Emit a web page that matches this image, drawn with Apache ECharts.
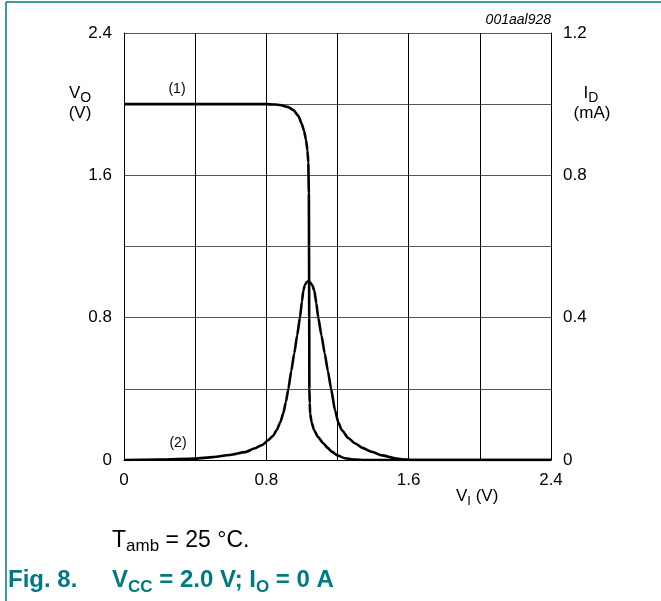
<!DOCTYPE html>
<html>
<head>
<meta charset="utf-8">
<script src="https://cdn.jsdelivr.net/npm/echarts@6/dist/echarts.min.js"></script>
<style>
html,body{margin:0;padding:0;background:#fff;}
#chart{width:661px;height:601px;}
</style>
</head>
<body>
<div id="chart"></div>
<script>
// ---- data ----
const voCurve = [ // [V_I (V), V_O (V)]  curve (1)
  [0, 2.0], [0.4, 2.0], [0.8, 2.0], [0.85, 1.998], [0.877, 1.995], [0.92, 1.985],
  [0.952, 1.967], [0.98, 1.935], [0.999, 1.89], [1.012, 1.85], [1.023, 1.80],
  [1.031, 1.74], [1.036, 1.67], [1.039, 1.5], [1.040, 1.2], [1.041, 0.8],
  [1.042, 0.4], [1.044, 0.32], [1.046, 0.262], [1.055, 0.21], [1.068, 0.169],
  [1.09, 0.13], [1.12, 0.094], [1.145, 0.068], [1.168, 0.047], [1.2, 0.025],
  [1.242, 0.010], [1.3, 0.002], [1.35, 0], [2.4, 0]
];
const idCurve = [ // [V_I (V), I_D (mA)]  curve (2)
  [0, 0], [0.2, 0.001], [0.4, 0.004], [0.5, 0.008], [0.596, 0.014], [0.68, 0.022],
  [0.736, 0.033], [0.78, 0.043], [0.811, 0.056], [0.838, 0.068], [0.858, 0.084],
  [0.878, 0.105], [0.895, 0.131], [0.91, 0.163], [0.924, 0.2], [0.94, 0.25],
  [0.957, 0.3], [0.973, 0.35], [0.989, 0.4], [1.0, 0.445], [1.008, 0.476],
  [1.017, 0.492], [1.027, 0.5], [1.036, 0.502], [1.046, 0.499], [1.058, 0.492],
  [1.07, 0.476], [1.081, 0.44], [1.092, 0.4], [1.11, 0.35], [1.128, 0.3],
  [1.146, 0.25], [1.164, 0.2], [1.186, 0.14], [1.205, 0.105], [1.224, 0.084],
  [1.26, 0.062], [1.298, 0.047], [1.34, 0.034], [1.392, 0.023], [1.45, 0.013],
  [1.523, 0.005], [1.58, 0.001], [1.62, 0], [2.4, 0]
];
const xTickLabels = ['0', '0.8', '1.6', '2.4'];
const yLeftTickLabels = ['0', '0.8', '1.6', '2.4'];
const yRightTickLabels = ['0', '0.4', '0.8', '1.2'];

// ---- chart ----
const FONT = 'Liberation Sans, Arial, sans-serif';
const TEAL = '#007a80';
function pickLabel(labels, step) {
  return function (v) {
    const k = v / step;
    if (Math.abs(k - Math.round(k)) < 1e-6) {
      const i = Math.round(k);
      return labels[i] !== undefined ? labels[i] : '';
    }
    return '';
  };
}
function richSet(size, subSize, color, bold) {
  const w = bold ? 'bold' : 'normal';
  return {
    m: {fontSize: size, fontWeight: w, fontFamily: FONT, fill: color, lineHeight: Math.round(size * 1.15), verticalAlign: 'top'},
    s: {fontSize: subSize, fontWeight: w, fontFamily: FONT, fill: color, lineHeight: Math.round(subSize * 0.75), verticalAlign: 'bottom'}
  };
}
const chart = echarts.init(document.getElementById('chart'), null, {renderer: 'canvas'});
const labelStyle = {color: '#000', fontFamily: FONT, fontSize: 17};
chart.setOption({
  animation: false,
  backgroundColor: '#fff',
  grid: {left: 124, right: 110, top: 33, bottom: 141, containLabel: false},
  xAxis: {
    type: 'value', min: 0, max: 2.4, interval: 0.4,
    axisLine: {show: true, onZero: false, lineStyle: {color: '#000', width: 1}},
    axisTick: {show: false},
    axisLabel: Object.assign({margin: 12, formatter: pickLabel(xTickLabels, 0.8)}, labelStyle),
    splitLine: {show: true, lineStyle: {color: '#000', width: 1}}
  },
  yAxis: [{
    type: 'value', min: 0, max: 2.4, interval: 0.4, position: 'left',
    axisLine: {show: true, onZero: false, lineStyle: {color: '#000', width: 1}},
    axisTick: {show: false},
    axisLabel: Object.assign({margin: 12, formatter: pickLabel(yLeftTickLabels, 0.8)}, labelStyle),
    splitLine: {show: true, lineStyle: {color: '#555', width: 1}}
  }, {
    type: 'value', min: 0, max: 1.2, interval: 0.2, position: 'right',
    axisLine: {show: true, onZero: false, lineStyle: {color: '#000', width: 1}},
    axisTick: {show: false},
    axisLabel: Object.assign({margin: 12, formatter: pickLabel(yRightTickLabels, 0.4)}, labelStyle),
    splitLine: {show: false}
  }],
  series: [{
    type: 'line', name: '(1)', yAxisIndex: 0, data: voCurve,
    showSymbol: false, symbol: 'none', smooth: 0.2, smoothMonotone: 'x',
    lineStyle: {color: '#000', width: 2.6}, z: 5
  }, {
    type: 'line', name: '(2)', yAxisIndex: 1, data: idCurve,
    showSymbol: false, symbol: 'none', smooth: 0.2, smoothMonotone: 'x',
    lineStyle: {color: '#000', width: 2.6}, z: 5
  }],
  graphic: [
    {type: 'line', shape: {x1: 6, y1: 2, x2: 661, y2: 2}, style: {stroke: TEAL, lineWidth: 1.5}},
    {type: 'line', shape: {x1: 6, y1: 2, x2: 6, y2: 601}, style: {stroke: TEAL, lineWidth: 1.5}},
    {type: 'text', x: 551, y: 20, style: {text: '001aal928', font: 'italic 14px ' + FONT, fill: '#000', textAlign: 'right', textVerticalAlign: 'middle'}},
    {type: 'text', x: 80, y: 95, style: {text: '{m|V}{s|O}', textAlign: 'center', textVerticalAlign: 'middle', rich: richSet(17, 14, '#000', false)}},
    {type: 'text', x: 80, y: 113, style: {text: '(V)', font: '17px ' + FONT, fill: '#000', textAlign: 'center', textVerticalAlign: 'middle'}},
    {type: 'text', x: 591, y: 95, style: {text: '{m|I}{s|D}', textAlign: 'center', textVerticalAlign: 'middle', rich: richSet(17, 14, '#000', false)}},
    {type: 'text', x: 592, y: 113, style: {text: '(mA)', font: '17px ' + FONT, fill: '#000', textAlign: 'center', textVerticalAlign: 'middle'}},
    {type: 'text', x: 177, y: 89, style: {text: '(1)', font: '14px ' + FONT, fill: '#000', textAlign: 'center', textVerticalAlign: 'middle'}},
    {type: 'text', x: 178, y: 443, style: {text: '(2)', font: '14px ' + FONT, fill: '#000', textAlign: 'center', textVerticalAlign: 'middle'}},
    {type: 'text', x: 456, y: 498, style: {text: '{m|V}{s|I}{m| (V)}', textAlign: 'left', textVerticalAlign: 'middle', rich: richSet(17, 13, '#000', false)}},
    {type: 'text', x: 112, y: 542, style: {text: '{m|T}{s|amb}{m| = 25 °C.}', textAlign: 'left', textVerticalAlign: 'middle', rich: richSet(23, 17, '#000', false)}},
    {type: 'text', x: 8, y: 582, style: {text: '{m|Fig. 8.}', textAlign: 'left', textVerticalAlign: 'middle', rich: richSet(24, 17, TEAL, true)}},
    {type: 'text', x: 112, y: 582, style: {text: '{m|V}{s|CC}{m| = 2.0 V; I}{s|O}{m| = 0 A}', textAlign: 'left', textVerticalAlign: 'middle', rich: richSet(24, 17, TEAL, true)}}
  ]
});
</script>
</body>
</html>
